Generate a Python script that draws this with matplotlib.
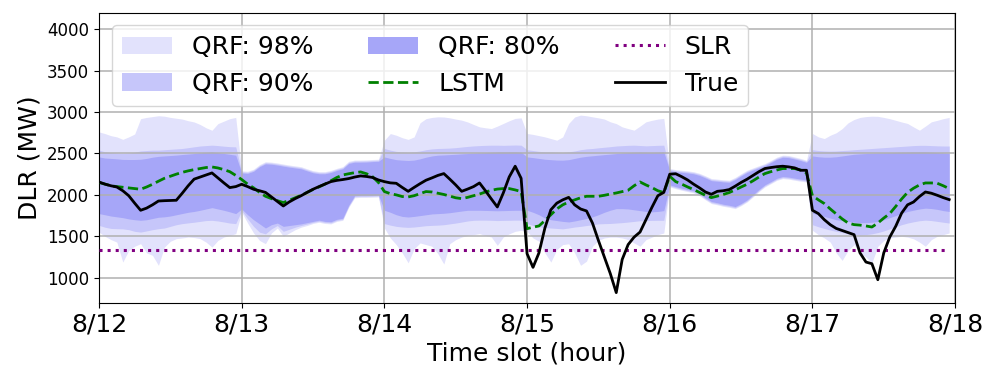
import numpy as np
import matplotlib.pyplot as plt

# hourly values, 8/12 00:00 -> 8/17 23:00
true_dlr = [2155, 2130, 2110, 2095, 2050, 1990, 1900, 1814, 1840, 1880, 1926, 1930, 1932, 1935, 2020, 2110, 2190, 2215, 2240, 2265, 2205, 2145, 2088, 2100,
            2128, 2100, 2068, 2050, 2030, 1975, 1920, 1866, 1915, 1955, 1990, 2030, 2068, 2100, 2130, 2160, 2175, 2185, 2197, 2215, 2229, 2222, 2210, 2180,
            2160, 2145, 2140, 2090, 2043, 2090, 2135, 2177, 2205, 2235, 2257, 2190, 2120, 2043, 2070, 2100, 2144, 2050, 1950, 1854, 2023, 2217, 2346, 2200,
            1290, 1125, 1300, 1600, 1820, 1900, 1940, 1970, 1880, 1830, 1806, 1660, 1450, 1250, 1050, 820, 1220, 1400, 1490, 1551, 1700, 1850, 1990, 2030,
            2250, 2255, 2220, 2180, 2130, 2085, 2035, 2007, 2043, 2050, 2064, 2105, 2150, 2189, 2235, 2280, 2318, 2330, 2340, 2346, 2338, 2326, 2297, 2297,
            1814, 1774, 1700, 1640, 1595, 1570, 1545, 1520, 1300, 1189, 1169, 976, 1300, 1490, 1620, 1780, 1880, 1914, 1980, 2035, 2020, 1995, 1967, 1943]

lstm = [2150, 2130, 2110, 2100, 2092, 2085, 2075, 2068, 2095, 2128, 2165, 2200, 2225, 2250, 2272, 2290, 2305, 2318, 2330, 2337, 2325, 2305, 2280, 2235,
        2185, 2130, 2085, 2030, 1983, 1955, 1930, 1907, 1935, 1965, 1995, 2030, 2065, 2096, 2130, 2170, 2210, 2240, 2255, 2268, 2277, 2255, 2220, 2150,
        2040, 2015, 2000, 1980, 1975, 1990, 2015, 2040, 2035, 2020, 2005, 1985, 1965, 1955, 1970, 1990, 2010, 2035, 2055, 2070, 2076, 2076, 2060, 2040,
        1592, 1610, 1625, 1690, 1760, 1830, 1880, 1914, 1940, 1965, 1983, 1983, 1983, 1995, 2010, 2023, 2040, 2056, 2110, 2156, 2120, 2088, 2050, 2028,
        2225, 2160, 2130, 2096, 2065, 2030, 1995, 1967, 1985, 2005, 2028, 2060, 2095, 2128, 2170, 2215, 2257, 2280, 2300, 2318, 2318, 2318, 2300, 2265,
        1990, 1940, 1895, 1830, 1770, 1710, 1660, 1641, 1635, 1625, 1612, 1660, 1720, 1774, 1860, 1950, 2030, 2080, 2120, 2144, 2144, 2140, 2110, 2076]

slr = 1330

hi98 = [2760, 2740, 2715, 2700, 2670, 2700, 2735, 2920, 2935, 2945, 2955, 2950, 2935, 2925, 2915, 2895, 2880, 2850, 2810, 2780, 2860, 2890, 2920, 2935,
        2290, 2285, 2310, 2365, 2400, 2395, 2385, 2372, 2360, 2350, 2340, 2315, 2292, 2280, 2280, 2295, 2320, 2340, 2405, 2420, 2420, 2422, 2427, 2430,
        2660, 2740, 2720, 2690, 2670, 2700, 2870, 2920, 2935, 2942, 2940, 2930, 2915, 2902, 2880, 2850, 2821, 2810, 2801, 2830, 2862, 2895, 2923, 2930,
        2741, 2730, 2715, 2700, 2680, 2660, 2700, 2862, 2940, 2963, 2955, 2942, 2930, 2915, 2882, 2860, 2821, 2800, 2781, 2830, 2882, 2900, 2915, 2923,
        2318, 2305, 2297, 2290, 2280, 2260, 2230, 2197, 2190, 2182, 2177, 2210, 2255, 2297, 2325, 2352, 2378, 2415, 2455, 2479, 2475, 2458, 2440, 2418,
        2741, 2700, 2680, 2720, 2750, 2800, 2870, 2910, 2935, 2945, 2950, 2948, 2935, 2920, 2900, 2880, 2862, 2820, 2781, 2830, 2882, 2900, 2920, 2935]
lo98 = [1551, 1500, 1460, 1430, 1189, 1330, 1380, 1411, 1300, 1270, 1149, 1370, 1440, 1472, 1480, 1491, 1485, 1472, 1430, 1370, 1450, 1491, 1510, 1532,
        1790, 1660, 1540, 1450, 1411, 1540, 1600, 1500, 1540, 1580, 1610, 1630, 1655, 1670, 1655, 1650, 1680, 1693, 1850, 1965, 1970, 1970, 1972, 1975,
        1600, 1480, 1400, 1300, 1180, 1350, 1420, 1400, 1380, 1290, 1165, 1411, 1460, 1491, 1510, 1520, 1532, 1510, 1491, 1390, 1491, 1530, 1560, 1572,
        1560, 1480, 1440, 1300, 1189, 1340, 1400, 1410, 1300, 1150, 1200, 1380, 1450, 1480, 1490, 1490, 1480, 1460, 1420, 1380, 1460, 1490, 1520, 1540,
        2096, 2075, 2056, 2040, 2025, 1990, 1940, 1895, 1880, 1862, 1850, 1834, 1870, 1914, 1975, 2040, 2096, 2135, 2175, 2197, 2190, 2177, 2165, 2156,
        1572, 1520, 1480, 1430, 1300, 1209, 1330, 1400, 1300, 1250, 1180, 1380, 1450, 1480, 1491, 1500, 1490, 1470, 1430, 1380, 1460, 1500, 1520, 1540]

hi90 = [2540, 2520, 2510, 2505, 2500, 2505, 2515, 2530, 2535, 2540, 2540, 2545, 2550, 2555, 2560, 2570, 2580, 2590, 2595, 2600, 2595, 2588, 2582, 2580,
        2278, 2273, 2298, 2352, 2388, 2383, 2372, 2360, 2348, 2338, 2328, 2303, 2280, 2268, 2268, 2283, 2308, 2328, 2392, 2408, 2408, 2410, 2414, 2418,
        2560, 2540, 2525, 2519, 2515, 2520, 2530, 2545, 2555, 2560, 2562, 2565, 2570, 2578, 2585, 2591, 2595, 2598, 2600, 2600, 2598, 2600, 2602, 2600,
        2545, 2535, 2525, 2520, 2519, 2515, 2512, 2519, 2530, 2545, 2555, 2560, 2568, 2575, 2582, 2590, 2594, 2598, 2600, 2596, 2592, 2595, 2598, 2600,
        2306, 2293, 2285, 2278, 2268, 2248, 2218, 2185, 2178, 2170, 2165, 2198, 2243, 2285, 2313, 2340, 2366, 2403, 2443, 2467, 2463, 2446, 2428, 2406,
        2545, 2535, 2530, 2528, 2530, 2535, 2539, 2545, 2550, 2555, 2560, 2565, 2570, 2575, 2580, 2585, 2590, 2595, 2598, 2598, 2595, 2592, 2590, 2590]
lo90 = [1632, 1610, 1595, 1592, 1590, 1580, 1560, 1551, 1565, 1580, 1592, 1600, 1620, 1640, 1653, 1662, 1670, 1680, 1690, 1693, 1685, 1673, 1660, 1653,
        1810, 1710, 1620, 1550, 1530, 1590, 1630, 1560, 1585, 1610, 1630, 1648, 1668, 1682, 1668, 1663, 1692, 1705, 1862, 1978, 1982, 1982, 1984, 1987,
        1653, 1635, 1620, 1612, 1608, 1612, 1620, 1628, 1632, 1635, 1640, 1650, 1660, 1672, 1685, 1693, 1695, 1695, 1693, 1690, 1692, 1693, 1695, 1695,
        1653, 1630, 1615, 1605, 1600, 1595, 1590, 1600, 1612, 1620, 1630, 1640, 1650, 1653, 1655, 1660, 1665, 1672, 1680, 1688, 1690, 1692, 1693, 1693,
        2108, 2087, 2068, 2052, 2037, 2002, 1952, 1907, 1892, 1874, 1862, 1846, 1882, 1926, 1987, 2052, 2108, 2147, 2187, 2209, 2202, 2189, 2177, 2168,
        1640, 1615, 1595, 1575, 1560, 1545, 1530, 1520, 1515, 1520, 1530, 1545, 1565, 1590, 1615, 1640, 1660, 1675, 1688, 1695, 1690, 1680, 1670, 1660]

hi80 = [2458, 2445, 2440, 2435, 2428, 2427, 2427, 2430, 2440, 2455, 2465, 2470, 2475, 2480, 2487, 2493, 2499, 2508, 2515, 2519, 2510, 2500, 2490, 2479,
        2265, 2260, 2285, 2340, 2375, 2370, 2360, 2347, 2335, 2325, 2315, 2290, 2267, 2255, 2255, 2270, 2295, 2315, 2380, 2395, 2395, 2397, 2402, 2405,
        2458, 2440, 2425, 2419, 2415, 2420, 2435, 2455, 2470, 2479, 2482, 2486, 2490, 2495, 2499, 2503, 2507, 2510, 2514, 2518, 2519, 2520, 2519, 2515,
        2458, 2450, 2440, 2430, 2425, 2420, 2419, 2425, 2440, 2455, 2465, 2472, 2479, 2486, 2492, 2499, 2505, 2510, 2515, 2517, 2515, 2514, 2516, 2519,
        2293, 2280, 2272, 2265, 2255, 2235, 2205, 2172, 2165, 2157, 2152, 2185, 2230, 2272, 2300, 2327, 2353, 2390, 2430, 2454, 2450, 2433, 2415, 2393,
        2470, 2460, 2455, 2455, 2460, 2470, 2480, 2490, 2495, 2499, 2502, 2505, 2508, 2510, 2512, 2515, 2517, 2519, 2520, 2518, 2515, 2510, 2505, 2500]
lo80 = [1774, 1760, 1745, 1735, 1725, 1710, 1700, 1693, 1700, 1715, 1730, 1735, 1745, 1760, 1775, 1790, 1800, 1814, 1830, 1846, 1830, 1814, 1795, 1774,
        1830, 1760, 1700, 1650, 1600, 1640, 1660, 1620, 1630, 1640, 1650, 1665, 1680, 1695, 1680, 1676, 1705, 1718, 1875, 1990, 1995, 1995, 1996, 2000,
        1814, 1790, 1760, 1740, 1733, 1740, 1750, 1760, 1770, 1774, 1778, 1785, 1795, 1805, 1814, 1814, 1814, 1812, 1810, 1808, 1810, 1812, 1814, 1814,
        1814, 1790, 1760, 1720, 1700, 1690, 1680, 1673, 1685, 1700, 1715, 1735, 1760, 1790, 1815, 1834, 1834, 1830, 1820, 1810, 1800, 1795, 1800, 1810,
        2121, 2100, 2081, 2065, 2050, 2015, 1965, 1920, 1905, 1887, 1875, 1859, 1895, 1939, 2000, 2065, 2121, 2160, 2200, 2222, 2215, 2202, 2190, 2181,
        1780, 1760, 1740, 1720, 1700, 1690, 1680, 1670, 1665, 1665, 1670, 1680, 1700, 1725, 1750, 1775, 1800, 1815, 1830, 1840, 1835, 1825, 1810, 1800]

day_labels = ['8/12', '8/13', '8/14', '8/15', '8/16', '8/17', '8/18']

hours = np.arange(len(true_dlr))

fig, ax = plt.subplots(figsize=(9.97, 3.83), dpi=100)
fig.subplots_adjust(left=0.0993, right=0.958, bottom=0.21, top=0.967)

ax.fill_between(hours, lo98, hi98, color='#e2e2fc', lw=0, zorder=1, label='QRF: 98%')
ax.fill_between(hours, lo90, hi90, color='#c6c6fa', lw=0, zorder=1, label='QRF: 90%')
ax.fill_between(hours, lo80, hi80, color='#a6a6f8', lw=0, zorder=1, label='QRF: 80%')
ax.plot(hours, lstm, color='green', ls='--', lw=2, label='LSTM', zorder=3)
ax.axhline(slr, color='purple', ls=':', lw=2.2, label='SLR', zorder=3,
           xmin=0, xmax=143 / 144)
ax.plot(hours, true_dlr, color='black', lw=2, label='True', zorder=4)

ax.set_xlim(0, 144)
ax.set_ylim(700, 4200)
ax.set_xticks(np.arange(0, 145, 24))
ax.set_xticklabels(day_labels, fontsize=18)
ax.set_yticks(np.arange(1000, 4001, 500))
ax.tick_params(axis='y', labelsize=12)
ax.grid(True, color='#b0b0b0', lw=1.1)
ax.set_xlabel('Time slot (hour)', fontsize=18)
ax.set_ylabel('DLR (MW)', fontsize=18)
ax.legend(loc='upper left', ncol=3, fontsize=18, columnspacing=2.2)

fig.savefig('out.png', dpi=100)
